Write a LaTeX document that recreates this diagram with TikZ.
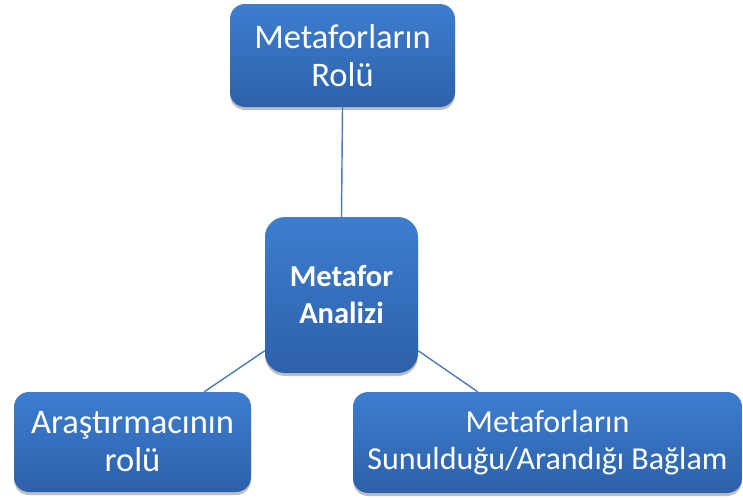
\documentclass[tikz,border=0pt]{standalone}
\usepackage{fontspec}
\setmainfont{Carlito}
\usetikzlibrary{shadows}
\definecolor{boxtop}{HTML}{3D7ECF}
\definecolor{boxbot}{HTML}{2D60AA}
\definecolor{linkcol}{HTML}{4A7BBA}
\tikzset{
  bluebox/.style={rectangle, rounded corners=15pt, inner sep=0pt, align=center,
    top color=boxtop, bottom color=boxbot, draw=none, text=white,
    font=\fontsize{34.5}{38}\selectfont,
    drop shadow={shadow xshift=0pt, shadow yshift=-3pt, opacity=0.25, fill=black}},
  linkline/.style={draw=linkcol, line width=1.4pt}
}
\begin{document}
\begin{tikzpicture}[x=1pt,y=-1pt]
\useasboundingbox (0,0) rectangle (743,499);
\node[bluebox, minimum width=225pt, minimum height=103pt] (top) at (342.5,55.5) {Metaforların\\Rolü};
\node[bluebox, rounded corners=20pt, minimum width=153pt, minimum height=156pt,
  font=\fontsize{30.5}{37}\selectfont\bfseries] (c) at (341.5,295) {Metafor\\Analizi};
\node[bluebox, minimum width=237pt, minimum height=100pt] (bl) at (132.5,442) {Araştırmacının\\rolü};
\node[bluebox, minimum width=389pt, minimum height=101pt,
  font=\fontsize{32}{37}\selectfont] (br) at (547.5,442.5) {Metaforların\\Sunulduğu/Arandığı Bağlam};
\draw[linkline] (top.south) -- (c.north);
\draw[linkline] (c.216) -- (bl.35);
\draw[linkline] (c.-36) -- (br.144);
\end{tikzpicture}
\end{document}
